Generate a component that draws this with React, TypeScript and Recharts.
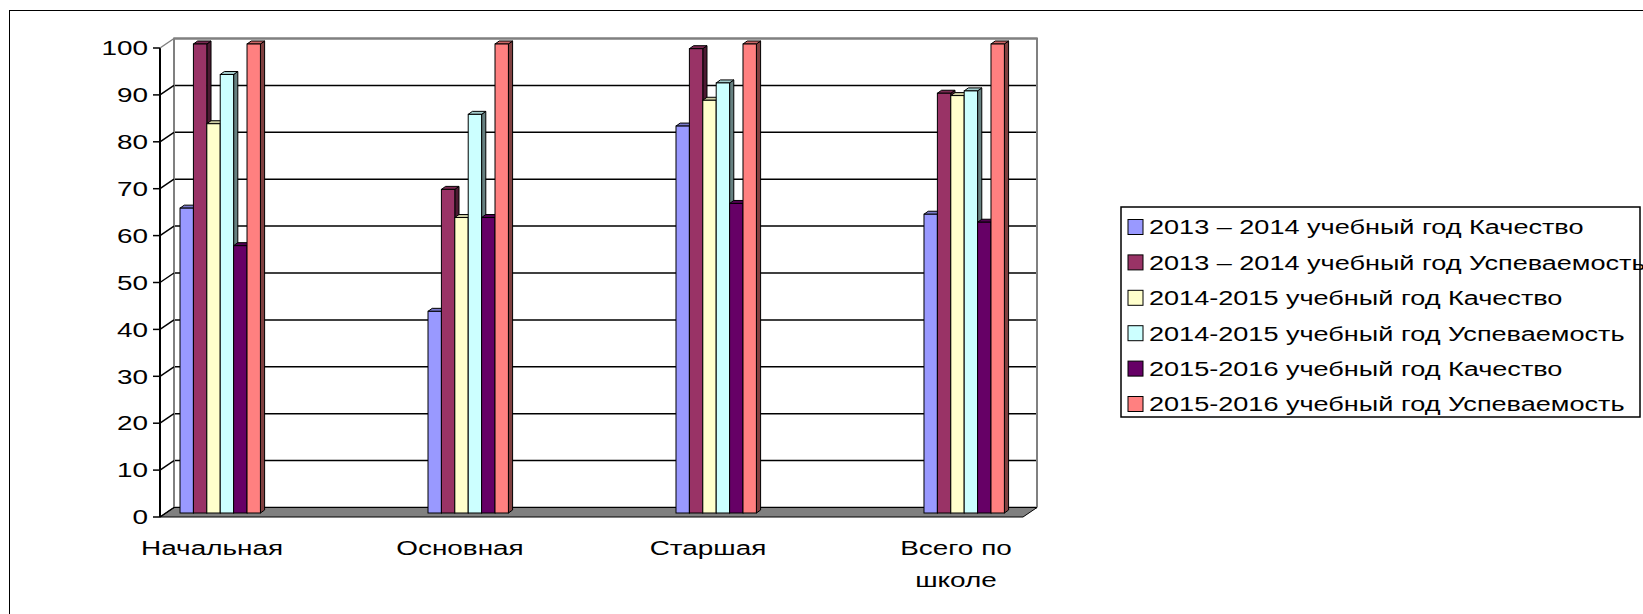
import React from 'react';
import { BarChart, Bar, XAxis, YAxis, CartesianGrid, ReferenceArea } from 'recharts';

// ---------- data ----------
const categories = ['Начальная', 'Основная', 'Старшая', 'Всего по школе'];
const quality1314 = [65, 43, 82.5, 63.7];
const progress1314 = [100, 69, 99, 89.5];
const quality1415 = [83, 63, 88, 89];
const progress1415 = [93.5, 85, 91.7, 90];
const quality1516 = [57, 63, 66, 62];
const progress1516 = [100, 100, 100, 100];

const seriesNames = [
  '2013 – 2014 учебный год Качество',
  '2013 – 2014 учебный год Успеваемость',
  '2014-2015 учебный год Качество',
  '2014-2015 учебный год Успеваемость',
  '2015-2016 учебный год Качество',
  '2015-2016 учебный год Успеваемость',
];
const seriesValues = [quality1314, progress1314, quality1415, progress1415, quality1516, progress1516];
const seriesColors = ['#9999FF', '#993366', '#FFFFCC', '#CCFFFF', '#660066', '#FF8080'];

const yTicks = [0, 10, 20, 30, 40, 50, 60, 70, 80, 90, 100];
const xLabelTicks = [0, 1, 2, 3];
const xMarkTicks = [0.234, 0.73, 1.726, 2.73, 3.23];
const xDomain: [number, number] = [-0.242, 3.238];

const data = categories.map((name, i) => {
  const row: any = { idx: i, name };
  seriesValues.forEach((vals, s) => {
    row['s' + s] = vals[i];
  });
  return row;
});

// ---------- style ----------
const FONT = '"Liberation Sans", Arial, Helvetica, sans-serif';
const AX_FONT = 21;
const AX_SX = 1.33;
const LG_FONT = 21;
const LG_SX = 1.29;
const W = 1627;
const H = 598;
const DX = 14; // back wall depth
const DY = 9.5;
const BDX = 4.2; // bar depth
const BDY = 3;
const BAR_SHIFT_Y = -4;
const Y_TICK_SIZE = 7;
const Y_TICK_MARGIN = 5;

function shade(hex: string, f: number) {
  const n = parseInt(hex.slice(1), 16);
  const r = Math.round(((n >> 16) & 255) * f);
  const g = Math.round(((n >> 8) & 255) * f);
  const b = Math.round((n & 255) * f);
  return `rgb(${r},${g},${b})`;
}

const makeBar = (color: string) => (p: any) => {
  const { x, y, width, height } = p;
  if (height == null || height <= 0) return <g />;
  const X = x;
  const Y = y + BAR_SHIFT_Y;
  const top = `${X},${Y} ${X + BDX},${Y - BDY} ${X + width + BDX},${Y - BDY} ${X + width},${Y}`;
  const side = `${X + width},${Y} ${X + width + BDX},${Y - BDY} ${X + width + BDX},${Y + height - BDY} ${X + width},${Y + height}`;
  return (
    <g>
      <polygon points={side} fill={shade(color, 0.5)} stroke="#000" strokeWidth={1} />
      <polygon points={top} fill={shade(color, 0.8)} stroke="#000" strokeWidth={1} />
      <rect x={X} y={Y} width={width} height={height} fill={color} stroke="#000" strokeWidth={1} />
    </g>
  );
};

const WallShape = (p: any) => {
  const { x, y, width, height } = p;
  const bx = x + DX;
  const by = y - DY;
  const fy = y + height;
  const bb = fy - DY;
  return (
    <g>
      <polyline
        points={`${bx},${bb} ${bx},${by} ${bx + width},${by} ${bx + width},${bb}`}
        stroke="#808080"
        strokeWidth={2}
        fill="none"
      />
      <polygon
        points={`${x},${fy} ${x + width},${fy} ${x + width + DX},${bb} ${bx},${bb}`}
        fill="#808080"
        stroke="#000"
        strokeWidth={1}
      />
    </g>
  );
};

const YTick = (props: any) => {
  const { x, y, payload } = props;
  const ax = x + Y_TICK_SIZE + Y_TICK_MARGIN;
  const isTop = payload.value === 100;
  return (
    <g>
      <line x1={ax - Y_TICK_SIZE} y1={y} x2={ax} y2={y} stroke="#000" strokeWidth={1.5} />
      <line x1={ax} y1={y} x2={ax + DX} y2={y - DY} stroke={isTop ? '#808080' : '#000'} strokeWidth={1.5} />
      <text
        transform={`translate(${x},${y}) scale(${AX_SX},1)`}
        textAnchor="end"
        dominantBaseline="central"
        fontSize={AX_FONT}
        fontFamily={FONT}
        fill="#000"
      >
        {payload.value}
      </text>
    </g>
  );
};

function wrapLabel(s: string): string[] {
  const k = s.lastIndexOf(' ');
  return k > 0 ? [s.slice(0, k), s.slice(k + 1)] : [s];
}

const XLabel = (props: any) => {
  const { x, y, payload } = props;
  const label = categories[payload.value];
  if (label == null) return <g />;
  const lines = wrapLabel(label);
  return (
    <g>
      {lines.map((ln, i) => (
        <text
          key={i}
          transform={`translate(${x - 8},${y + 31 + i * 32}) scale(${AX_SX},1)`}
          textAnchor="middle"
          dominantBaseline="central"
          fontSize={AX_FONT}
          fontFamily={FONT}
          fill="#000"
        >
          {ln}
        </text>
      ))}
    </g>
  );
};

const LEGEND_W = 519;

const Legend6 = () => (
  <svg
    width={700}
    height={220}
    style={{ position: 'absolute', left: 1121, top: 207, overflow: 'visible' }}
  >
    <rect x={0} y={0} width={LEGEND_W} height={210} fill="#fff" />
    {seriesNames.map((n, i) => {
      const cy = 20 + i * 35.4;
      return (
        <g key={n}>
          <rect x={7} y={cy - 7.5} width={15} height={15} fill={seriesColors[i]} stroke="#000" strokeWidth={1} />
          <text
            transform={`translate(28,${cy}) scale(${LG_SX},1)`}
            dominantBaseline="central"
            fontSize={LG_FONT}
            fontFamily={FONT}
            fill="#000"
          >
            {n}
          </text>
        </g>
      );
    })}
    <rect x={0} y={0} width={LEGEND_W} height={210} fill="none" stroke="#000" strokeWidth={1.5} />
  </svg>
);

export default function App() {
  return (
    <div
      style={{
        position: 'fixed',
        left: 0,
        top: 0,
        width: 1643,
        height: 614,
        overflow: 'hidden',
        background: '#fff',
      }}
    >
      <div
        style={{
          position: 'absolute',
          left: 9,
          top: 10,
          width: 3000,
          height: 3000,
          border: '1.5px solid #000',
        }}
      />
      <div style={{ position: 'absolute', left: 8, top: 8 }}>
        <BarChart
          width={W}
          height={H}
          data={data}
          margin={{ top: 40, right: 612, bottom: 87, left: 92 }}
          barSize={13.4}
          barGap={0}
        >
          <CartesianGrid
            vertical={false}
            horizontal={(p: any) => (
              <line
                key={`h-${p.index}-${p.y1}`}
                x1={p.x1 + DX}
                y1={p.y1 - DY}
                x2={p.x2 + DX}
                y2={p.y2 - DY}
                stroke="#000"
                strokeWidth={1.5}
              />
            )}
          />
          <XAxis
            xAxisId="marks"
            dataKey="idx"
            type="number"
            domain={xDomain}
            allowDataOverflow
            ticks={xMarkTicks}
            interval={0}
            tick={false}
            tickLine={{ stroke: '#000', strokeWidth: 1.5 }}
            tickSize={8}
            axisLine={false}
            height={1}
          />
          <XAxis
            dataKey="idx"
            type="number"
            domain={xDomain}
            allowDataOverflow
            ticks={xLabelTicks}
            interval={0}
            tick={<XLabel />}
            tickLine={false}
            tickSize={0}
            tickMargin={0}
            axisLine={false}
            height={1}
          />
          <YAxis
            type="number"
            domain={[0, 100]}
            ticks={yTicks}
            interval={0}
            width={60}
            tick={<YTick />}
            tickLine={false}
            tickSize={Y_TICK_SIZE}
            tickMargin={Y_TICK_MARGIN}
            axisLine={{ stroke: '#000', strokeWidth: 2 }}
          />
          <ReferenceArea y1={0} y2={100} shape={<WallShape />} ifOverflow="visible" />
          {seriesNames.map((n, s) => (
            <Bar
              key={n}
              dataKey={'s' + s}
              name={n}
              fill={seriesColors[s]}
              shape={makeBar(seriesColors[s])}
              isAnimationActive={false}
            />
          ))}
        </BarChart>
      </div>
      <Legend6 />
    </div>
  );
}
